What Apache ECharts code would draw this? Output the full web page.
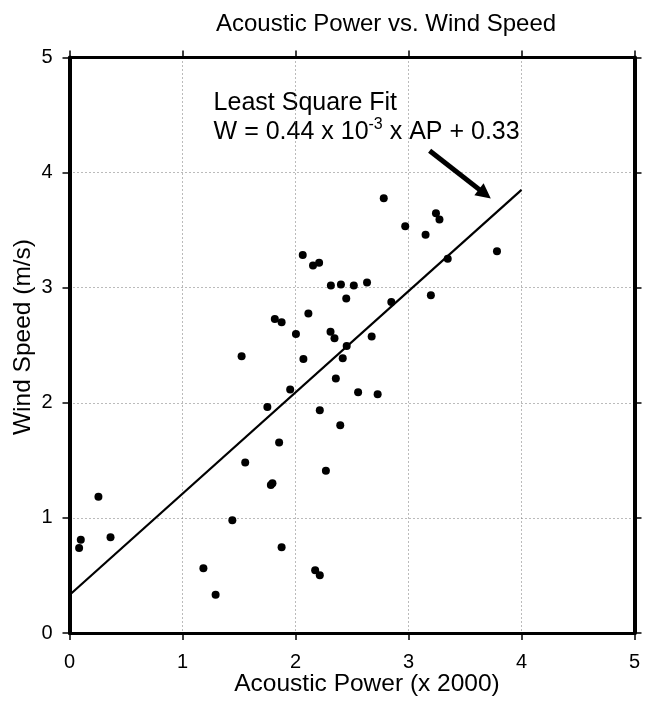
<!DOCTYPE html>
<html><head><meta charset="utf-8">
<script src="https://cdn.jsdelivr.net/npm/echarts@6/dist/echarts.min.js"></script>
<style>html,body{margin:0;padding:0;background:#fff}#c{width:649px;height:702px}</style>
</head><body><div id="c"></div>
<script>
// Acoustic power (x 2000) and wind speed (m/s)
const acousticPower = [0.085,0.10,0.256,0.363,1.185,1.293,1.441,1.523,1.555,1.751,1.782,1.796,1.817,1.877,1.855,1.877,1.953,2.004,2.064,2.07,2.114,2.155,2.209,2.174,2.215,2.215,2.269,2.313,2.31,2.345,2.357,2.396,2.402,2.418,2.449,2.453,2.516,2.554,2.633,2.674,2.727,2.781,2.848,2.971,3.151,3.198,3.243,3.274,3.347,3.783];
const windSpeed = [0.739,0.811,1.183,0.832,0.563,0.333,0.98,2.405,1.482,1.964,1.286,1.30,2.728,2.70,1.654,0.746,2.116,2.597,3.285,2.38,2.776,3.193,3.217,0.546,0.501,1.936,1.41,3.02,2.618,2.56,2.212,1.806,3.027,2.387,2.907,2.494,3.02,2.091,3.045,2.577,2.074,3.778,2.876,3.533,3.461,2.935,3.647,3.592,3.251,3.317];
const fitX = [0, 4];
const fitY = [0.33, 3.85];
const arrowStart = [3.187, 4.19];
const arrowEnd = [3.676, 3.815];
const titleText = 'Acoustic Power vs. Wind Speed';
const xName = 'Acoustic Power (x 2000)';
const yName = 'Wind Speed (m/s)';
const noteLine1 = 'Least Square Fit';
const noteLine2 = 'W = 0.44 x 10{sup|-3} x AP + 0.33';

const FONT = '"Liberation Sans", Arial, Helvetica, sans-serif';
const chart = echarts.init(document.getElementById('c'), null, {renderer: 'canvas'});

function axisCommon(extra) {
  return Object.assign({
    type: 'value', min: 0, max: 5, interval: 1,
    axisLine: {show: true, onZero: false, lineStyle: {color: '#000', width: 3}},
    axisTick: {show: true, inside: false, length: 7, lineStyle: {color: '#000', width: 1.5}},
    splitLine: {show: false}
  }, extra);
}

const pts = acousticPower.map((x, i) => [x, windSpeed[i]]);
const fit = fitX.map((x, i) => [x, fitY[i]]);

function txt(x, y, text, size, opts) {
  return Object.assign({
    type: 'text', x: x, y: y, silent: true,
    style: Object.assign({
      text: text, fill: '#000', font: size + 'px ' + FONT,
      align: 'left', verticalAlign: 'middle', textAlign: 'left', textVerticalAlign: 'middle'
    }, (opts && opts.style) || {})
  }, (opts && opts.el) || {});
}

const gridLine = {show: true, lineStyle: {type: [1, 3], color: '#777', width: 1}};

chart.setOption({
  animation: false,
  backgroundColor: '#fff',
  grid: {left: 69.5, right: 14.5, top: 57.5, bottom: 69, containLabel: false},
  xAxis: [
    axisCommon({position: 'bottom',
      axisLabel: {margin: 19, fontSize: 20, color: '#000', fontFamily: FONT},
      splitLine: gridLine}),
    axisCommon({position: 'top', axisLabel: {show: false}})
  ],
  yAxis: [
    axisCommon({position: 'left',
      axisLine: {show: true, onZero: false, lineStyle: {color: '#000', width: 4}},
      axisLabel: {margin: 17, fontSize: 20, color: '#000', fontFamily: FONT},
      splitLine: gridLine}),
    axisCommon({position: 'right',
      axisLine: {show: true, onZero: false, lineStyle: {color: '#000', width: 4}},
      axisLabel: {show: false}})
  ],
  series: [
    {
      type: 'line', data: fit, xAxisIndex: 0, yAxisIndex: 0,
      showSymbol: false, symbol: 'none',
      lineStyle: {color: '#000', width: 2.2},
      z: 3,
      markLine: {
        silent: true, animation: false,
        label: {show: false},
        lineStyle: {color: '#000', width: 5, type: 'solid'},
        data: [[
          {coord: arrowStart, symbol: 'none'},
          {coord: arrowEnd, symbol: 'triangle', symbolSize: 15}
        ]]
      }
    },
    {
      type: 'scatter', data: pts, xAxisIndex: 0, yAxisIndex: 0,
      symbol: 'circle', symbolSize: 8,
      itemStyle: {color: '#000', opacity: 1}, z: 4
    }
  ],
  graphic: {elements: [
    txt(386, 24, titleText, 24, {style: {align: 'center', textAlign: 'center'}}),
    txt(367, 684, xName, 24.5, {style: {align: 'center', textAlign: 'center'}}),
    txt(23.5, 337, yName, 24.5, {style: {align: 'center', textAlign: 'center'}, el: {rotation: Math.PI / 2}}),
    txt(213.6, 103, noteLine1, 25),
    txt(213.6, 132, noteLine2, 25, {style: {
      lineHeight: 30,
      rich: {sup: {fontSize: 16, fontFamily: FONT, verticalAlign: 'top', lineHeight: 16, fill: '#000'}}
    }})
  ]}
});
</script>
</body></html>
